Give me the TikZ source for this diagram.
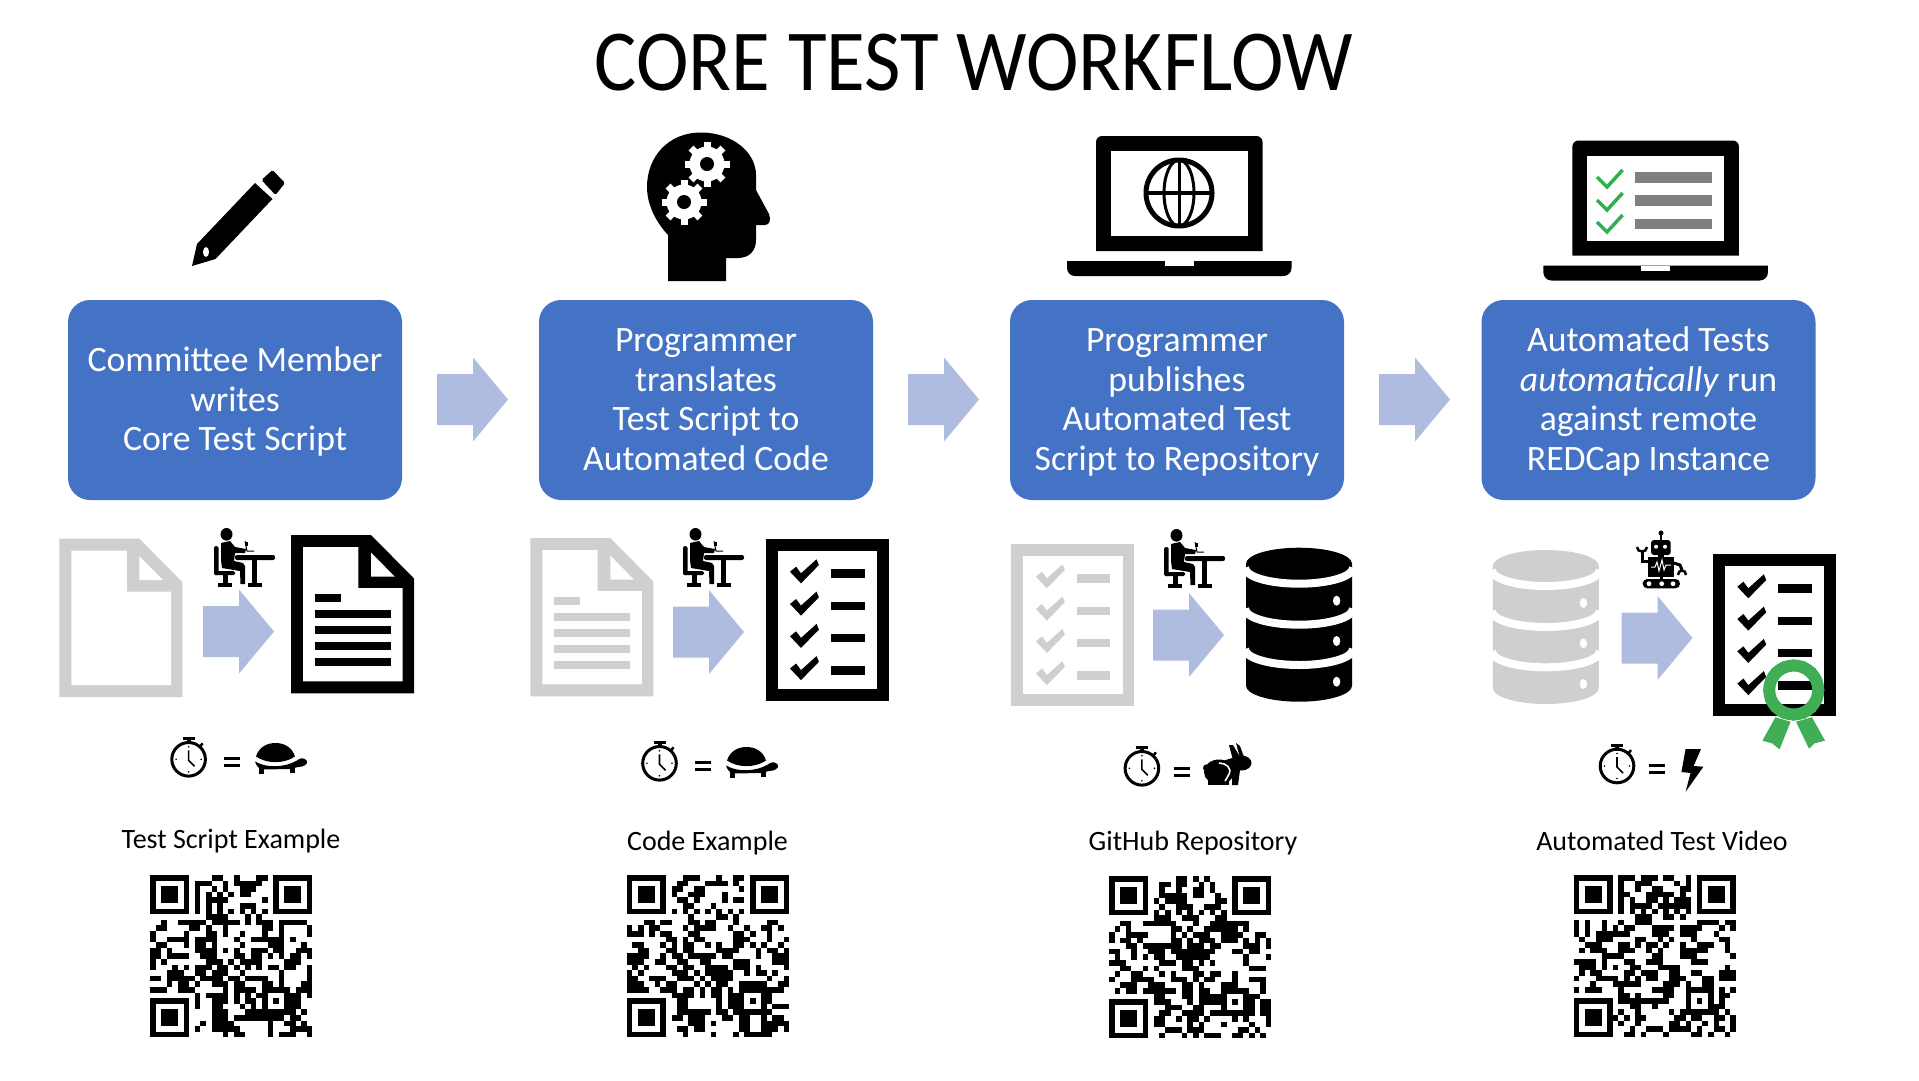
\documentclass[tikz,border=0pt]{standalone}
\usepackage{fontspec}
\setmainfont{Carlito}
\newfontfamily\titlefont[FakeStretch=0.91]{Carlito}
\definecolor{boxblue}{HTML}{4472C4}
\definecolor{arrowblue}{HTML}{AFBCDF}
\definecolor{palegrey}{HTML}{D0CECE}
\definecolor{checkgreen}{HTML}{2FB04F}
\definecolor{ringgreen}{HTML}{3FAE54}
\definecolor{bargrey}{HTML}{808080}
\newcommand{\topfix}{\rule{0pt}{34pt}}
\tikzset{
 stepbox/.style={fill=boxblue,rounded corners=22pt,minimum width=334pt,minimum height=200pt,inner sep=0pt,align=center,text=white,font=\fontsize{35.7}{39.8}\selectfont},
 qrlabel/.style={inner sep=0pt,font=\fontsize{28}{32}\selectfont,text=black},
 titletext/.style={inner sep=0pt,font=\titlefont\fontsize{87}{100}\selectfont,text=black}
}
\newcommand{\blockarrow}[2]{\begin{scope}[shift={(#1,#2)}]
 \fill[arrowblue] (0,-25.5) -- (36,-25.5) -- (36,-42) -- (71,0) -- (36,42) -- (36,25.5) -- (0,25.5) -- cycle;
\end{scope}}
\newcommand{\docicon}[3]{\begin{scope}[shift={(#1,#2)}]
 \fill[#3] (0,0) -- (80,0) -- (123,43.5) -- (123,158.3) -- (0,158.3) -- cycle;
 \fill[white] (12,12) -- (67.4,12) -- (67.4,53) -- (111.6,53) -- (111.6,146.3) -- (12,146.3) -- cycle;
 \fill[white] (80,17.5) -- (80,41.5) -- (103.6,41.5) -- cycle;
\end{scope}}
\newcommand{\doclines}[3]{\begin{scope}[shift={(#1,#2)}]
 \fill[#3] (23.8,58.7) rectangle (50,66.7);
 \foreach \ly in {75,91,107.3,123.3} \fill[#3] (23.8,\ly) rectangle (99.7,\ly+8);
\end{scope}}
\newcommand{\checkicon}[3]{\begin{scope}[shift={(#1,#2)}]
 \fill[#3] (0,0) rectangle (123,161.7);
 \fill[white] (12,12.3) rectangle (111.5,149.7);
 \foreach \ly in {0,32.3,64.6,96.8} {
  \fill[#3] (24.5,32.7+\ly) -- (30.6,27.7+\ly) -- (35.5,34.3+\ly) -- (51,20.3+\ly) -- (53.4,26+\ly) -- (35.5,44.3+\ly) -- cycle;
  \fill[#3] (65.5,30.3+\ly) rectangle (99,38.7+\ly);
 }
\end{scope}}
\newcommand{\dbicon}[3]{\begin{scope}[shift={(#1,#2)}]
 \fill[#3] (0,16) arc[start angle=180,end angle=360,x radius=53,y radius=16] -- (106,138) arc[start angle=0,end angle=180,x radius=53,y radius=16] -- cycle;
 \foreach \cy in {20,61,101.3} \draw[white,line width=8pt] (-1,\cy) arc[start angle=180,end angle=0,x radius=54,y radius=16];
 \foreach \dy in {53,93.3,134} \fill[white] (90.6,\dy) ellipse[x radius=3.7,y radius=5];
\end{scope}}
\newcommand{\personicon}[2]{\begin{scope}[shift={(#1,#2)}]
 \fill (12.5,6.3) ellipse[x radius=6,y radius=6.3];
 \fill (7,15) -- (16,13) -- (21,19) -- (32,21) -- (31,25) -- (21,25) -- (20,33) -- (29,35) -- (31,38) -- (31,56) -- (26.5,56) -- (26,43) -- (8,40) -- (7,32) -- cycle;
 \fill[rounded corners=1.5pt] (0,18) rectangle (4.5,47);
 \fill[rounded corners=1.5pt] (0,43) rectangle (21,47);
 \fill (9,47) rectangle (14,55);
 \fill (4,55) rectangle (18,58.5);
 \fill[rounded corners=2pt] (21,27) rectangle (61,32);
 \fill (38,32) rectangle (43,55);
 \fill (34,55) rectangle (48,58.5);
 \draw[line width=1pt] (31,13) -- (33,23) -- (40,23);
 \fill (31,14) rectangle (34,18);
\end{scope}}
\newcommand{\clockicon}[2]{\begin{scope}[shift={(#1,#2)}]
 \draw[line width=3pt] (0,0) circle[radius=16.8];
 \fill (-6,-22.5) rectangle (6,-19.5);
 \fill (-2,-20) rectangle (2,-16);
 \draw[line width=2.5pt] (11,-12) -- (14,-16);
 \draw[line width=1.6pt] (0,-9) -- (0,1) -- (6,7);
 \foreach \ang in {0,90,180,270} \fill (\ang:12.5) circle[radius=0.9];
\end{scope}}
\newcommand{\equalsign}[2]{\begin{scope}[shift={(#1,#2)}]
 \fill (0,0) rectangle (16,3); \fill (0,7) rectangle (16,10);
\end{scope}}
\newcommand{\turtleicon}[2]{\begin{scope}[shift={(#1,#2)}]
 \fill (0,13.5) .. controls (3,4) and (11,0) .. (19.5,0) .. controls (28,0) and (36,4) .. (39,13.5) .. controls (28,21) and (11,21) .. cycle;
 \fill (-1,18.5) .. controls (10,25) and (28,25) .. (41,17.5) .. controls (44,14.5) and (49,14.5) .. (51,18) .. controls (52,21) and (48,24) .. (42,24) -- (34,26) -- (6,26.5) .. controls (2,25) and (0,22) .. cycle;
 \fill (3,25) rectangle (8,30.5);
 \fill (34,25) rectangle (38.5,30);
\end{scope}}
\newcommand{\gearicon}[2]{
 \fill[white] (#1,#2) circle[radius=17.5];
 \foreach \ang in {0,45,90,135} \fill[white,rotate around={\ang:(#1,#2)}] (#1-3.5,#2-22.5) rectangle (#1+3.5,#2+22.5);
 \fill (#1,#2) circle[radius=7];
}
\newcommand{\laptopicon}[2]{\begin{scope}[shift={(#1,#2)}]
 \fill (0,115) -- (0,6) arc[start angle=180,end angle=270,radius=6] -- (160.5,0) arc[start angle=270,end angle=360,radius=6] -- (166.5,115) -- cycle;
 \fill[white] (14.6,15) rectangle (151.6,100);
 \fill (-29,125) -- (195.5,125) -- (195.5,132) arc[start angle=0,end angle=90,radius=8] -- (-21,140) arc[start angle=90,end angle=180,radius=8] -- cycle;
 \fill[white] (69,125) rectangle (98,130);
\end{scope}}
% QR drawing
\newcount\qrcol
\def\qrnext#1{\if#1x\else\if#11\fill (\qrx+\the\qrcol*5.6,\qry+\qrn*5.6) rectangle ++(5.65,5.65);\fi\advance\qrcol by 1 \expandafter\qrnext\fi}
\newcommand{\qrcode}[3]{\def\qrx{#1}\def\qry{#2}%
 \foreach \qrrow [count=\qrn from 0] in {#3} {\qrcol=0 \expandafter\qrnext\qrrow x}}
\begin{document}
\begin{tikzpicture}[x=1pt,y=-1pt]
\useasboundingbox (0,0) rectangle (1919,1080);
\fill[white] (0,0) rectangle (1919,1080);
\node[titletext] (title) at (974,63) {CORE TEST WORKFLOW};
% step boxes
\node[stepbox] (b1) at (235,400) {\topfix Committee Member\\writes\\\strut Core Test Script};
\node[stepbox] (b2) at (706,400) {\topfix Programmer\\translates\\Test Script to\\\strut Automated Code};
\node[stepbox] (b3) at (1177,400) {\topfix Programmer\\publishes\\Automated Test\\\strut Script to Repository};
\node[stepbox] (b4) at (1648.5,400) {\topfix Automated Tests\\\textit{automatically} run\\against remote\\\strut REDCap Instance};
\blockarrow{437}{399.5}
\blockarrow{908}{399.5}
\blockarrow{1379}{399.5}
% pencil
\fill (192,266) -- (197,244) -- (255,183) -- (272.5,199) -- (215.5,259) -- cycle;
\fill[white] (206,252) ellipse[x radius=3,y radius=5];
\fill[rounded corners=1.5pt] (261.5,180) -- (272.5,170) -- (285,183) -- (275.5,195) -- cycle;
% head
\fill (668,281) -- (726,281) -- (726,258) -- (738,258) .. controls (750,258) and (756,250) .. (756,240) -- (756,225) -- (765,225) .. controls (770,225) and (771,219) .. (769,214) -- (756,190) -- (756,175) .. controls (756,152) and (732,132.5) .. (701,132.5) .. controls (668,132.5) and (647,157) .. (647,187) .. controls (647,205) and (656,222) .. (668,235) -- cycle;
\gearicon{707}{164}
\gearicon{684}{202}
% laptop 1
\laptopicon{1096}{136}
\draw[line width=5pt] (1179,193) circle[radius=33];
\draw[line width=3pt] (1179,193) ellipse[x radius=15,y radius=33];
\draw[line width=3pt] (1179,160) -- (1179,226);
\draw[line width=4pt] (1147,193) -- (1211,193);
% laptop 2
\laptopicon{1572.4}{140.5}
\foreach \ck in {0,23,45} \draw[checkgreen,line width=3.5pt] (1597,177+\ck) -- (1607,187+\ck) -- (1622.6,170+\ck);
\fill[bargrey] (1635,172) rectangle (1712,183);
\fill[bargrey] (1635,195) rectangle (1712,206);
\fill[bargrey] (1635,219) rectangle (1712,229);
% row 3: documents
\docicon{59.4}{538.7}{palegrey}
\docicon{291}{535}{black}
\doclines{291}{535}{black}
\docicon{530.3}{538}{palegrey}
\doclines{530.3}{538}{palegrey}
\checkicon{765.5}{539}{black}
\checkicon{1011.4}{544}{palegrey}
\dbicon{1246}{547.7}{black}
\dbicon{1492.8}{550}{palegrey}
\checkicon{1712.8}{554}{black}
\blockarrow{203}{631.5}
\blockarrow{673}{632}
\blockarrow{1153}{635}
\blockarrow{1621.5}{638}
\personicon{214}{528}
\personicon{683}{528}
\personicon{1164}{529}
% robot
\fill (1661,533) circle[radius=2.5];
\fill (1660,533) rectangle (1662,541);
\fill[rounded corners=3pt] (1651,540) rectangle (1670.7,555);
\fill[white] (1656,546.7) circle[radius=2];
\fill[white] (1665,546.7) circle[radius=2];
\fill (1658,555) rectangle (1664,558);
\fill (1648,557) rectangle (1674,576.7);
\draw[white,line width=1pt] (1651,567) -- (1655,567) -- (1657,562) -- (1659,571) -- (1662,560) -- (1664,570) -- (1666,565) -- (1671,565);
\draw[line width=3pt] (1648,561) -- (1642,561) -- (1642,551);
\draw[line width=2.5pt] (1637,547) .. controls (1637,553) and (1647,553) .. (1647,547);
\draw[line width=3pt] (1674,563) -- (1680,565) -- (1682,570);
\draw[line width=2.5pt] (1678,575) .. controls (1678,569) and (1686,569) .. (1686,575);
\fill (1660,576) rectangle (1663,580);
\fill[rounded corners=4.5pt] (1642.7,579) rectangle (1680,588.3);
\foreach \tx in {1649,1661.7,1673} \fill[white] (\tx,583.7) circle[radius=2.4];
% certificate ribbon
\fill[ringgreen] (1775.3,717.3) -- (1790.6,721.7) -- (1779.6,749.3) -- (1772,743.3) -- (1762.4,740.7) -- cycle;
\fill[ringgreen] (1796,721.7) -- (1812,717.3) -- (1825,740.7) -- (1814.5,743.3) -- (1809,748.7) -- cycle;
\draw[ringgreen,line width=12pt] (1793.7,690) circle[radius=24.5];
\foreach \ang in {0,22.5,...,337.5} \fill[ringgreen] (1793.7,690) ++(\ang:27.3) circle[radius=3.5];
% timers
\clockicon{188.6}{759.3}
\equalsign{223.5}{756.7}
\turtleicon{256}{743}
\clockicon{659.5}{763.3}
\equalsign{694.5}{760.7}
\turtleicon{727}{747}
\clockicon{1141.9}{768.3}
\equalsign{1174}{767}
% rabbit
\fill (1206.7,768) circle[radius=3.7];
\fill (1219,772) ellipse[x radius=15,y radius=12.5];
\fill (1241.5,763) ellipse[x radius=10,y radius=7.5];
\fill (1222,761) -- (1236,757) -- (1240,770) -- (1233,778) -- (1222,780) -- cycle;
\fill (1229,745) -- (1233,745) -- (1240,757) -- (1233,760) -- cycle;
\fill (1236,743) -- (1240,746) -- (1244,757) -- (1240,758) -- cycle;
\fill (1232,770) -- (1240,770) -- (1238,785) -- (1232,785) -- cycle;
\fill (1208,780) rectangle (1229,785);
\draw[white,line width=1.6pt] (1219,763) .. controls (1226,763) and (1232,768) .. (1229,774) .. controls (1228,777) and (1226,779) .. (1225,781);
% clock 4 and bolt
\clockicon{1617}{766}
\equalsign{1649}{764}
\fill (1685.6,749) -- (1701,749) -- (1693.6,766) -- (1703.4,766.7) -- (1685.6,791.7) -- (1690.5,773) -- (1681.4,772) -- cycle;
% labels
\node[qrlabel] (l1) at (231,841) {Test Script Example};
\node[qrlabel] (l2) at (707.5,843) {Code Example};
\node[qrlabel] (l3) at (1193,843) {GitHub Repository};
\node[qrlabel] (l4) at (1662,841) {Automated Test Video};
% QR codes
\qrcode{150}{875}{
11111110000110010001101111111,
10000010111001011111001000001,
10111010100101001110001011101,
10111010101010101100001011101,
10111010101111000000101011101,
10000010101010001110001000001,
11111110101010101010101111111,
00000000001111000101000000000,
00100111110111110101110111110,
01100001101001000000110100001,
10000010001101001000100100001,
10011110111100010011111101000,
01100010110100001000011100010,
11010000111101010011101100111,
11011110011100011011010101101,
10100000001110101111000011100,
10001010111011010101011011001,
00011100110111001000000100001,
11011111011110110111100100001,
00010110100111011000110100011,
11100111000001011110111110111,
00000000101111010101100011101,
11111110100111010110101011100,
10000010100110001010100011100,
10111010000111000111111111010,
10111010000111011111111101100,
10111010010111100000010011010,
10000010100111110000010001111,
11111110000001011000010111001}
\qrcode{626.7}{875}{
11111110001110001001101111111,
10000010011000111101001000001,
10111010110011000000101011101,
10111010100111000100001011101,
10111010011010000101101011101,
10000010001100010000001000001,
11111110101010101010101111111,
00000000000100001101000000000,
00011011000110110001000001100,
10101100001011110010010011010,
11101011000110000001101001000,
00000001101011000001110001001,
01100010101100101001101010010,
00110001101100001111000101101,
11110010110111110110000100111,
11100110011001100001110000111,
01010001101100111101110100001,
10100000111010111110010110100,
11001110011101011110000001001,
11100101100010101100111110011,
11110011101101011010111111110,
00000000111101011011100011000,
11111110011000001011101011000,
10000010011000001011100010111,
10111010011111101101111111000,
10111010110111000110110010110,
10111010000111010000110011111,
10000010011011000000110011101,
11111110001000010001011111000}
\qrcode{1109}{876}{
11111110000011010100001111111,
10000010011011001010001000001,
10111010010010011010001011101,
10111010011111011001001011101,
10111010101111000001101011101,
10000010010011100111001000001,
11111110101010101010101111111,
00000000111001110001100000000,
00110011111100010011111110000,
01010000000110100111111010000,
10011110000101011100111100110,
10110100000110101110111010101,
00011011111110111011000011101,
11001001110111111110001101100,
01001010110011111100000010001,
11100000011101101010000010000,
00110010100001110000000001110,
01001100010100011011001000000,
10001111000111010110001001110,
00111001110001101000111000010,
01011011111101101100111110010,
00000000110001101111100011100,
11111110111000101111101011011,
10000010001110011000100011011,
10111010011001111011111111011,
10111010110010110100001010001,
10111010110000101000100001001,
10000010001110111000000110100,
11111110010001010111001101010}
\qrcode{1573.5}{875}{
11111110111011101100101111111,
10000010100111000010101000001,
10111010100100110001101011101,
10111010110001111101001011101,
10111010101001101011101011101,
10000010101111011111101000001,
11111110101010101010101111111,
00000000000111001101000000000,
10100100100111000000001111011,
10100101011000111101111000101,
10101111110000111001110001000,
01001110000110010100010000110,
00111000110101101001001110010,
01011100111001010001111100010,
00000111100000110001110000001,
11110100011001110000011100000,
01110101001100011110000000010,
01011000011011100110011000111,
10001111010101100111000110111,
00010001111100001110100110000,
10111000100000111100111110101,
00000000110100001100100010110,
11111110111111111000101010100,
10000010001100100000100011100,
10111010100100000101111111010,
10111011010110000011011001101,
10111010100100000110100101001,
10000010001001110111101001101,
11111110011010001000011010010}
\end{tikzpicture}
\end{document}
